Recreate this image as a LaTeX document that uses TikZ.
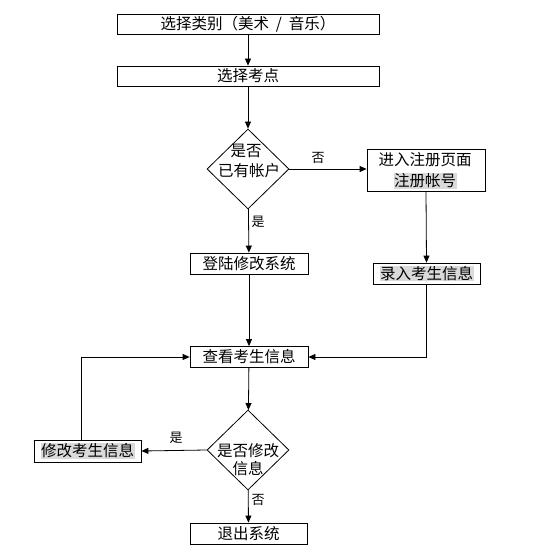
\documentclass[tikz,border=0pt]{standalone}
\usepackage{fontspec}
\newfontfamily\cjk{Noto Sans CJK SC}
\usetikzlibrary{arrows.meta,shapes.geometric}
\definecolor{hlgray}{RGB}{218,218,218}
\newcommand{\hlbg}[1]{{\setlength{\fboxsep}{0.5pt}\colorbox{hlgray}{#1}}}
\begin{document}
\begin{tikzpicture}[x=1pt,y=-1pt,
  every node/.style={font=\cjk\fontsize{15.5}{19}\selectfont},
  box/.style={draw,line width=0.8pt,inner sep=0pt,minimum height=21pt},
  decision/.style={draw,line width=0.8pt,diamond,inner sep=0pt,minimum width=82pt,minimum height=80pt},
  lbl/.style={font=\cjk\fontsize{13}{15}\selectfont,inner sep=0pt},
  arr/.style={line width=0.8pt,-{Triangle[length=7pt,width=6pt]}},
  ln/.style={line width=0.8pt}]
\fill[white] (0,0) rectangle (533,548);
\useasboundingbox (0,0) rectangle (533,548);

\node[box,minimum width=262pt,minimum height=20pt] (b1) at (248,24) {选择类别（美术\ \ /\ \ 音乐）};
\node[box,minimum width=262pt,minimum height=20pt] (b2) at (248,76) {选择考点};
\node[decision] (d1) at (248,169) {};
\node[inner sep=0pt] (d1t1) at (246,151) {是否};
\node[inner sep=0pt] (d1t2) at (249,171) {已有帐户};
\node[box,minimum width=118pt,minimum height=42pt] (reg) at (426,170) {};
\node[inner sep=0pt] (regt1) at (425,160) {进入注册页面};
\node[inner sep=0pt] (regt2) at (425,181) {\hlbg{注册帐号}};
\node[box,minimum width=118pt] (dl) at (249,263.5) {登陆修改系统};
\node[box,minimum width=107pt] (lr) at (426.5,273.5) {\hlbg{录入考生信息}};
\node[box,minimum width=118pt] (ck) at (249,357) {查看考生信息};
\node[decision] (d2) at (248,450) {};
\node[inner sep=0pt] (d2t1) at (248,451) {是否修改};
\node[inner sep=0pt] (d2t2) at (248,469) {信息};
\node[box,minimum width=107pt,minimum height=22pt] (xg) at (87.5,451) {\hlbg{修改考生信息}};
\node[box,minimum width=117pt] (tc) at (248.5,533.5) {退出系统};

\node[lbl] (l1) at (318,158) {否};
\node[lbl] (l2) at (258,222) {是};
\node[lbl] (l3) at (176,438) {是};
\node[lbl] (l4) at (258,500) {否};

\draw[arr] (b1) -- (b2);
\draw[arr] (b2) -- (d1);
\draw[arr] (d1.east) -- (d1.east -| reg.west);
\draw[arr] (d1) -- (dl);
\draw[arr] (reg.south) -- (lr.north);
\draw[arr] (dl) -- (ck);
\draw[arr] (lr.south) |- (ck.east);
\draw[arr] (ck) -- (d2);
\draw[arr] (d2.west) -- (xg.east);
\draw[arr] ([xshift=-6.5pt]xg.north) |- (ck.west);
\draw[arr] (d2) -- (tc);
\end{tikzpicture}
\end{document}
